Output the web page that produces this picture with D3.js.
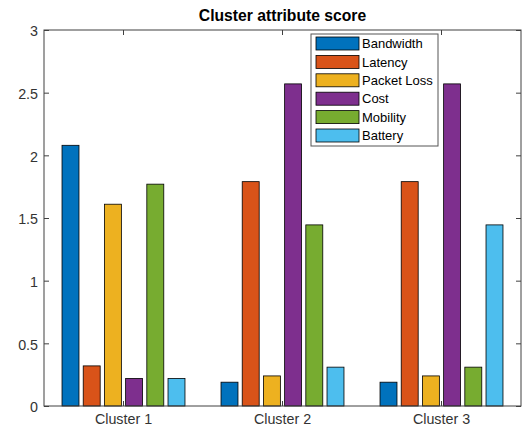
<!DOCTYPE html>
<html><head><meta charset="utf-8">
<script src="https://cdn.jsdelivr.net/npm/d3@7"></script>
<style>
body{margin:0;background:#fff;}
text{font-family:"Liberation Sans",Arial,Helvetica,sans-serif;}
</style>
</head><body>
<svg id="c" width="522" height="432"></svg>
<script>
const clusters = ["Cluster 1","Cluster 2","Cluster 3"];
const series = ["Bandwidth","Latency","Packet Loss","Cost","Mobility","Battery"];
const colors = ["#0072BD","#D95319","#EDB120","#7E2F8E","#77AC30","#4DBEEE"];
const bandwidth = [2.08, 0.19, 0.19];
const latency = [0.32, 1.79, 1.79];
const packetLoss = [1.61, 0.24, 0.24];
const cost = [0.22, 2.57, 2.57];
const mobility = [1.77, 1.445, 0.31];
const battery = [0.22, 0.31, 1.445];
const yTicks = [0, 0.5, 1, 1.5, 2, 2.5, 3];
const title = "Cluster attribute score";

const values = [bandwidth, latency, packetLoss, cost, mobility, battery];
const svg = d3.select("#c");
const L = 44, R = 521, T = 30, B = 406;
const axisColor = "#404040";

const x0 = d3.scaleBand().domain(clusters).range([L, R]).paddingInner(0).paddingOuter(0);
const bw = x0.bandwidth();
const x1 = d3.scaleBand().domain(series).range([0.1*bw, 0.9*bw]).paddingInner(0.2).paddingOuter(0.1);
const y = d3.scaleLinear().domain([0, 3]).range([B, T]);

// bars
const g = svg.append("g");
clusters.forEach((c, ci) => {
  series.forEach((s, si) => {
    g.append("rect")
      .attr("x", x0(c) + x1(s))
      .attr("y", y(values[si][ci]))
      .attr("width", x1.bandwidth())
      .attr("height", y(0) - y(values[si][ci]))
      .attr("fill", colors[si])
      .attr("stroke", "#000")
      .attr("stroke-width", 0.8);
  });
});

function styleAxis(sel, showLabels) {
  sel.select(".domain").remove();
  sel.selectAll(".tick line").attr("stroke", axisColor);
  sel.selectAll(".tick text").attr("fill", "#333").style("font-size", "14.3px");
  if (!showLabels) sel.selectAll(".tick text").remove();
}

const yAxisL = svg.append("g").attr("transform", `translate(${L},0)`)
  .call(d3.axisLeft(y).tickValues(yTicks).tickSize(-5).tickPadding(6).tickFormat(d3.format("")));
styleAxis(yAxisL, true);
yAxisL.selectAll(".tick text").attr("dy", "0.4em");
const yAxisR = svg.append("g").attr("transform", `translate(${R},0)`)
  .call(d3.axisRight(y).tickValues(yTicks).tickSize(-5));
styleAxis(yAxisR, false);

const xAxisB = svg.append("g").attr("transform", `translate(0,${B})`)
  .call(d3.axisBottom(x0).tickSize(-5).tickPadding(8));
styleAxis(xAxisB, true);
const xAxisT = svg.append("g").attr("transform", `translate(0,${T})`)
  .call(d3.axisTop(x0).tickSize(-5));
styleAxis(xAxisT, false);

// box
svg.append("rect").attr("x", L).attr("y", T).attr("width", R - L).attr("height", B - T)
  .attr("fill", "none").attr("stroke", axisColor).attr("stroke-width", 1);

// title
svg.append("text").attr("x", (L + R) / 2).attr("y", 21).attr("text-anchor", "middle")
  .style("font-size", "15.7px").style("font-weight", "bold").attr("fill", "#000").text(title);

// legend
const lg = svg.append("g");
lg.append("rect").attr("x", 311).attr("y", 34).attr("width", 127).attr("height", 112)
  .attr("fill", "#fff").attr("stroke", "#555").attr("stroke-width", 1);
series.forEach((s, i) => {
  const cy = 43.5 + i * 18.4;
  lg.append("rect").attr("x", 316).attr("y", cy - 6.5).attr("width", 43).attr("height", 13)
    .attr("fill", colors[i]).attr("stroke", "#000").attr("stroke-width", 0.8);
  lg.append("text").attr("x", 362).attr("y", cy).attr("dy", "0.36em")
    .style("font-size", "13px").attr("fill", "#000").text(s);
});
</script>
</body></html>
